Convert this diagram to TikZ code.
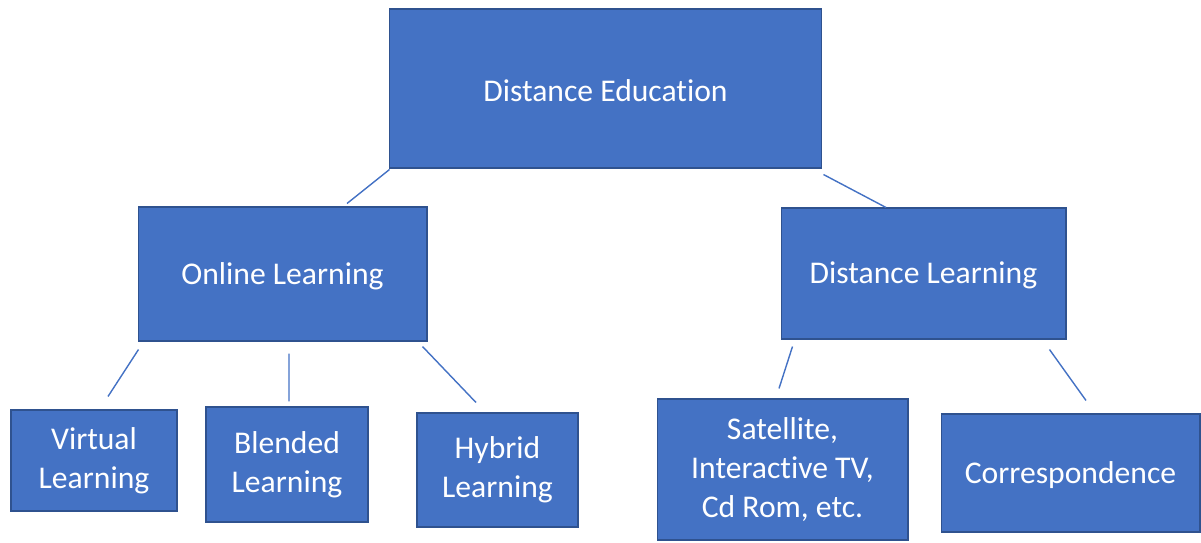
\documentclass[tikz,border=0pt]{standalone}
\usepackage{fontspec}
\setmainfont{Carlito}[Ligatures=NoCommon]
\usepackage{xcolor}
\usepackage{tikz}
\usetikzlibrary{positioning}

\definecolor{boxblue}{HTML}{4472C4}
\definecolor{boxedge}{HTML}{2F528F}

\begin{document}
\begin{tikzpicture}[x=0.02cm, y=-0.02cm,
                box/.style = {draw = boxedge, line width = 0.6pt, fill = boxblue, text = white,
                              align = center, inner sep = 0pt,
                              font = \fontsize{18}{22}\selectfont,
                              execute at begin node = \rule{0pt}{15pt}},
                link/.style = {draw = boxblue, line width = 0.8pt}]
            \useasboundingbox (0,0) rectangle (1201,542);
            \node[box, minimum width = 8.66cm, minimum height = 3.18cm] (de)  at (605.5,88.5) {Distance Education};
            \node[box, minimum width = 5.78cm, minimum height = 2.68cm] (ol)  at (282.5,274)  {Online Learning};
            \node[box, minimum width = 5.70cm, minimum height = 2.62cm] (dl)  at (923.5,273.5) {Distance Learning};
            \node[box, minimum width = 3.32cm, minimum height = 2.02cm] (vl)  at (94,460.5)   {Virtual\\Learning};
            \node[box, minimum width = 3.24cm, minimum height = 2.30cm] (bl)  at (287,464.5)  {Blended\\Learning};
            \node[box, minimum width = 3.22cm, minimum height = 2.28cm] (hl)  at (497.5,470)  {Hybrid\\Learning};
            \node[box, minimum width = 5.02cm, minimum height = 2.82cm] (sat) at (782.5,469.5) {Satellite,\\Interactive TV,\\Cd Rom, etc.};
            \node[box, minimum width = 5.18cm, minimum height = 2.36cm] (cor) at (1070.5,473) {Correspondence};
            \draw[link] ([shift={(1,1)}]de.south west)   -- ([shift={(64.5,-3)}]ol.north);
            \draw[link] ([shift={(1,6)}]de.south east)   -- ([shift={(-37.5,0)}]dl.north);
            \draw[link] ([shift={(1,8)}]ol.south west)   -- ([shift={(14,-13)}]vl.north);
            \draw[link] ([shift={(6.5,12)}]ol.south)     -- ([shift={(2,-5)}]bl.north);
            \draw[link] ([shift={(-5,5)}]ol.south east)  -- ([shift={(-21.5,-10)}]hl.north);
            \draw[link] ([shift={(12,7)}]dl.south west)  -- ([shift={(-3.5,-10)}]sat.north);
            \draw[link] ([shift={(-17,10)}]dl.south east) -- ([shift={(15.5,-13)}]cor.north);
\end{tikzpicture}
\end{document}
